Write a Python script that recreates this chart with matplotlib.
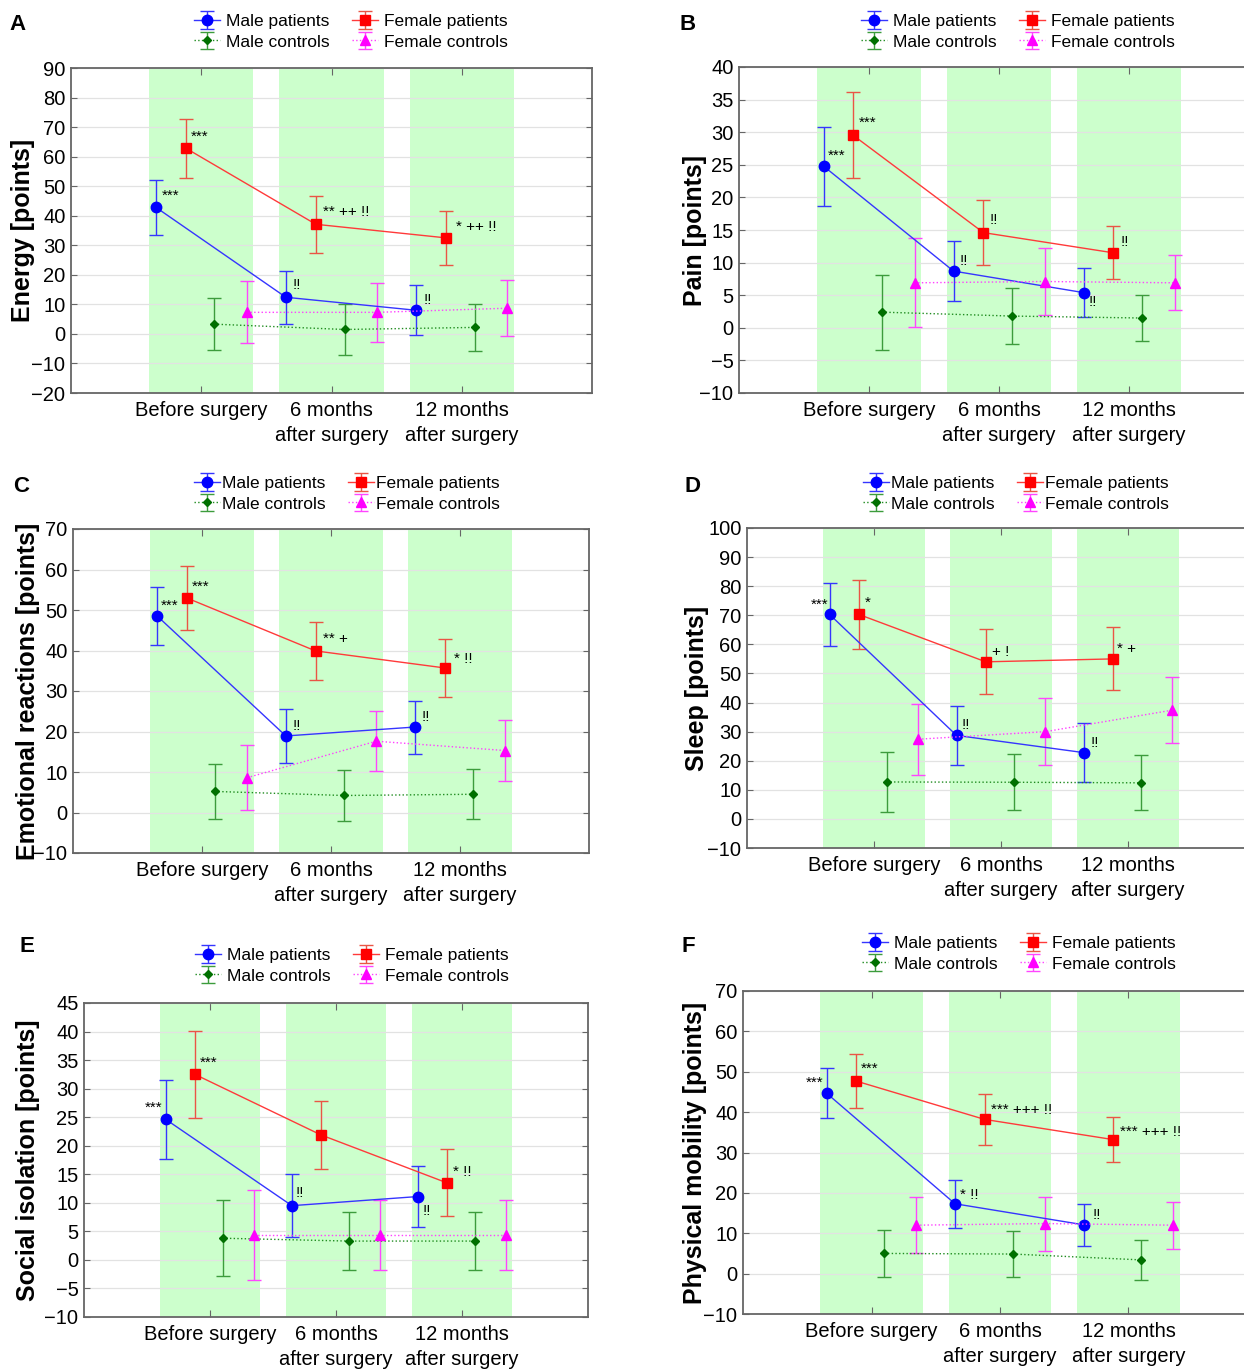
import numpy as np
import matplotlib
matplotlib.use("Agg")
import matplotlib.pyplot as plt

W, H = 1244, 1370
TIMES = ["Before surgery", "6 months\nafter surgery", "12 months\nafter surgery"]
GROUPS = ["Male patients", "Female patients", "Male controls", "Female controls"]

# rows: male patients, female patients, male controls, female controls; cols: 3 time points
energy_mean = [[42.9, 12.4, 8.0], [62.9, 37.1, 32.5], [3.3, 1.5, 2.2], [7.3, 7.3, 8.7]]
energy_err = [[9.3, 9.0, 8.4], [10.0, 9.7, 9.1], [8.8, 8.6, 7.9], [10.5, 10.0, 9.4]]

pain_mean = [[24.8, 8.7, 5.4], [29.5, 14.6, 11.5], [2.4, 1.8, 1.5], [6.9, 7.1, 6.9]]
pain_err = [[6.05, 4.6, 3.75], [6.6, 4.95, 4.05], [5.75, 4.35, 3.5], [6.8, 5.1, 4.2]]

emo_mean = [[48.6, 18.9, 21.1], [53.0, 39.9, 35.7], [5.2, 4.2, 4.5], [8.6, 17.6, 15.3]]
emo_err = [[7.2, 6.6, 6.55], [7.85, 7.1, 7.1], [6.8, 6.2, 6.2], [8.1, 7.45, 7.45]]

sleep_mean = [[70.3, 28.7, 22.8], [70.3, 54.0, 55.0], [12.7, 12.6, 12.4], [27.4, 30.0, 37.4]]
sleep_err = [[10.9, 10.25, 10.0], [11.85, 11.15, 10.8], [10.3, 9.7, 9.4], [12.2, 11.55, 11.25]]

social_mean = [[24.6, 9.5, 11.1], [32.5, 21.9, 13.5], [3.8, 3.3, 3.3], [4.4, 4.4, 4.4]]
social_err = [[7.0, 5.5, 5.4], [7.6, 5.95, 5.85], [6.65, 5.15, 5.15], [7.9, 6.15, 6.1]]

mob_mean = [[44.7, 17.3, 12.1], [47.7, 38.2, 33.2], [5.0, 4.85, 3.4], [12.0, 12.4, 12.0]]
mob_err = [[6.25, 5.9, 5.15], [6.75, 6.4, 5.6], [5.9, 5.6, 4.9], [7.0, 6.7, 5.8]]

# significance marks: (group, time, text, dx px, dy px, ha)
energy_notes = [(0, 0, "***", 6, 11, "left"), (1, 0, "***", 5, 11, "left"), (1, 1, "** ++ !!", 7, 12, "left"),
                (1, 2, "* ++ !!", 10, 11, "left"), (0, 1, "!!", 7, 12, "left"), (0, 2, "!!", 7, 10, "left")]
pain_notes = [(0, 0, "***", 4, 10, "left"), (1, 0, "***", 5, 13, "left"), (1, 1, "!!", 6, 13, "left"),
              (1, 2, "!!", 7, 11, "left"), (0, 1, "!!", 6, 10, "left"), (0, 2, "!!", 5, -9, "left")]
emo_notes = [(0, 0, "***", 4, 10, "left"), (1, 0, "***", 5, 11, "left"), (1, 1, "** +", 7, 12, "left"),
             (1, 2, "* !!", 9, 9, "left"), (0, 1, "!!", 7, 10, "left"), (0, 2, "!!", 7, 10, "left")]
sleep_notes = [(0, 0, "***", -1, 10, "right"), (1, 0, "*", 6, 12, "left"), (1, 1, "+ !", 6, 10, "left"),
               (1, 2, "* +", 4, 10, "left"), (0, 1, "!!", 5, 10, "left"), (0, 2, "!!", 7, 10, "left")]
social_notes = [(0, 0, "***", -3, 12, "right"), (1, 0, "***", 5, 12, "left"), (1, 2, "* !!", 6, 11, "left"),
                (0, 1, "!!", 4, 13, "left"), (0, 2, "!!", 5, -14, "left")]
mob_notes = [(0, 0, "***", -3, 10, "right"), (1, 0, "***", 5, 12, "left"), (1, 1, "*** +++ !!", 6, 9, "left"),
             (1, 2, "*** +++ !!", 7, 8, "left"), (0, 1, "* !!", 5, 9, "left"), (0, 2, "!!", 9, 10, "left")]

# marker, size, line colour, errorbar colour, marker colour, linestyle
STY = [("o", 7.5, "#3535ff", "#3535ff", "#0000ff", "-"),
       ("s", 7.5, "#ff3a3a", "#ea5545", "#ff0000", "-"),
       ("D", 4.5, "#208c20", "#3c9c3c", "#007000", ":"),
       ("^", 7, "#ff40ff", "#ff45ff", "#ff00ff", ":")]
OFFS = [-0.35, -0.12, 0.10, 0.35]

plt.rcParams.update({"font.family": ["Liberation Sans", "DejaVu Sans"]})
fig = plt.figure(figsize=(W / 100, H / 100), dpi=100)


def panel(rect, letter, lxy, ylabel, ylx, ylim, ystep, mean, err, notes, legxy, htp):
    l, r, t, b = rect
    ax = fig.add_axes([l / W, 1 - b / H, (r - l) / W, (b - t) / H])
    ax.set_xlim(0, 4); ax.set_ylim(*ylim)
    for c in (1, 2, 3):
        ax.axvspan(c - 0.4, c + 0.4, color="#ccffcc", lw=0, zorder=0.2)
    ax.set_axisbelow(True)
    ax.grid(axis="y", color="#e2e2e2", lw=0.9)
    hs = []
    for g in range(4):
        m, ms, lc, ec, fc, ls = STY[g]
        x = np.arange(1, 4) + OFFS[g]
        h = ax.errorbar(x, mean[g], yerr=err[g], marker=m, ms=ms, linestyle=ls, color=lc, ecolor=ec,
                        mfc=fc, mec=fc, lw=1, elinewidth=1, capsize=5, capthick=1, label=GROUPS[g], zorder=3)
        hs.append(h)
    for g, i, txt, dx, dy, ha in notes:
        ax.annotate(txt, (i + 1 + OFFS[g], mean[g][i]), xytext=(dx * 0.72, dy * 0.72),
                    textcoords="offset points", ha=ha, va="center", fontsize=11, zorder=4)
    ax.set_xticks([1, 2, 3], TIMES)
    for lb in ax.get_xticklabels():
        lb.set_linespacing(1.4)
    ax.set_yticks(np.arange(ylim[0], ylim[1] + 0.1, ystep))
    ax.tick_params(axis="x", direction="in", length=5, top=True, labelsize=14.5, pad=6, color="#666666")
    ax.tick_params(axis="y", direction="in", length=4, right=True, labelsize=14.5, pad=4, color="#666666")
    for sp in ax.spines.values():
        sp.set_color("#666666"); sp.set_linewidth(1.3)
    fig.text(ylx / W, 1 - (t + b) / 2 / H, ylabel, rotation=90, fontsize=18, fontweight="bold",
             ha="center", va="center")
    fig.text(lxy[0] / W, 1 - lxy[1] / H, letter, fontsize=16, fontweight="bold", ha="center", va="center")
    fig.legend(handles=[hs[0], hs[2], hs[1], hs[3]], loc="upper left",
               bbox_to_anchor=(legxy[0] / W, 1 - legxy[1] / H), ncol=2, frameon=False, fontsize=12.5,
               borderpad=0, borderaxespad=0, handlelength=1.5, handletextpad=htp, columnspacing=1.3,
               labelspacing=0.3)
    return ax


panel((71, 592, 68, 393), "A", (17, 25), "Energy [points]", 23, (-20, 90), 10,
      energy_mean, energy_err, energy_notes, (194, 14), 0.35)
panel((739, 1259, 67, 393), "B", (688, 25), "Pain [points]", 695, (-10, 40), 5,
      pain_mean, pain_err, pain_notes, (861, 14), 0.35)
panel((73, 589, 529, 853), "C", (21, 487), "Emotional reactions [points]", 28, (-10, 70), 10,
      emo_mean, emo_err, emo_notes, (194, 476), 0.1)
panel((747, 1255, 528, 848), "D", (692, 487), "Sleep [points]", 697, (-10, 100), 10,
      sleep_mean, sleep_err, sleep_notes, (863, 476), 0.1)
panel((84, 588, 1003, 1317), "E", (27, 946), "Social isolation [points]", 28, (-10, 45), 5,
      social_mean, social_err, social_notes, (195, 948), 0.35)
panel((743, 1257, 991, 1314), "F", (688, 946), "Physical mobility [points]", 695, (-10, 70), 10,
      mob_mean, mob_err, mob_notes, (862, 936), 0.35)

fig.savefig("out.png", dpi=100)
